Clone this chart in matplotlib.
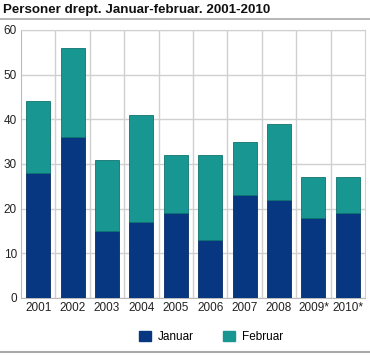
import matplotlib
matplotlib.use("Agg")
import matplotlib.pyplot as plt
from matplotlib.lines import Line2D
from matplotlib.patches import Patch

years = ["2001", "2002", "2003", "2004", "2005", "2006", "2007", "2008", "2009*", "2010*"]
januar = [28, 36, 15, 17, 19, 13, 23, 22, 18, 19]
februar = [16, 20, 16, 24, 13, 19, 12, 17, 9, 8]

c_jan = "#083781"
c_feb = "#179692"

plt.rcParams['font.family'] = ['Liberation Sans', 'DejaVu Sans']

fig = plt.figure(figsize=(3.70, 3.55), dpi=100)
ax = fig.add_axes([21/370, 57/355, 344/370, 268/355])

x = list(range(len(years)))
ax.bar(x, januar, width=0.7, color=c_jan, edgecolor="#062c66", linewidth=0.6, zorder=3)
ax.bar(x, februar, width=0.7, bottom=januar, color=c_feb, edgecolor="#0f7370", linewidth=0.6, zorder=3)

ax.set_xlim(-0.5, len(years) - 0.5)
ax.set_ylim(0, 60)
ax.set_yticks(range(0, 61, 10))
ax.set_xticks(x)
ax.set_xticklabels(years)
for b in [i + 0.5 for i in range(len(years) - 1)]:
    ax.axvline(b, color="#d0d0d0", linewidth=1, zorder=1)
ax.yaxis.grid(True, color="#d0d0d0", linewidth=1, zorder=1)
ax.tick_params(axis="both", length=0, labelsize=8.5, colors="#222222", pad=3)
for s in ["top", "right"]:
    ax.spines[s].set_color("#d0d0d0")
for s in ["left", "bottom"]:
    ax.spines[s].set_color("#bbbbbb")

fig.text(3/370, 1 - 10/355, "Personer drept. Januar-februar. 2001-2010",
         fontsize=9.6, fontweight="bold", va="center", ha="left", color="#111111")
fig.add_artist(Line2D([0, 1], [1 - 19/355, 1 - 19/355], color="#aaaaaa", linewidth=1.2))
fig.add_artist(Line2D([0, 1], [1 - 352/355, 1 - 352/355], color="#aaaaaa", linewidth=1.5))

handles = [Patch(facecolor=c_jan, edgecolor=c_jan), Patch(facecolor=c_feb, edgecolor=c_feb)]
fig.legend(handles, ["Januar", "Februar"], loc="center", bbox_to_anchor=(211/370, 1 - 337/355),
           ncol=2, frameon=False, fontsize=8.5, handlelength=1.0, handleheight=1.0,
           columnspacing=2.5, handletextpad=0.6)

fig.savefig("out.png", dpi=100)
